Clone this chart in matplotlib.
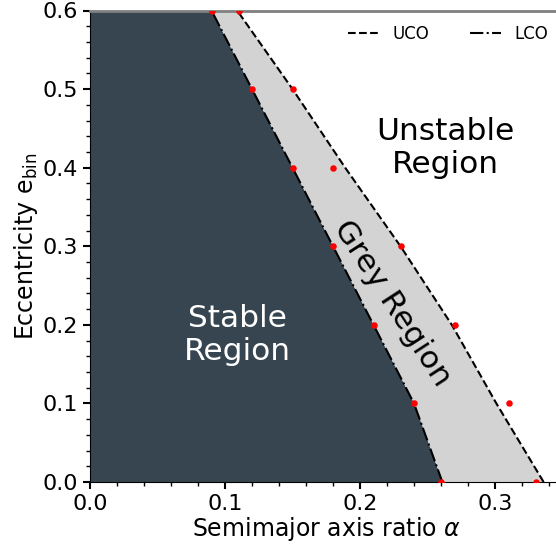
import matplotlib
matplotlib.use("Agg")
import matplotlib.pyplot as plt
from matplotlib.ticker import MultipleLocator
import numpy as np

# Data
ecc_levels = [0.0, 0.1, 0.2, 0.3, 0.4, 0.5, 0.6]
# red simulation points
lco_pts_alpha = [0.26, 0.24, 0.21, 0.18, 0.15, 0.12, 0.09]
uco_pts_alpha = [0.33, 0.31, 0.27, 0.23, 0.18, 0.15, 0.11]
# boundary curves (as drawn)
lco_curve_alpha = [0.261, 0.240, 0.210, 0.180, 0.150, 0.120, 0.090]
uco_curve_alpha = [0.336, 0.301, 0.268, 0.230, 0.189, 0.150, 0.109]

xticks = [0.0, 0.1, 0.2, 0.3]
yticks = [0.0, 0.1, 0.2, 0.3, 0.4, 0.5, 0.6]

dark = "#36454F"
grey = "#D3D3D3"

fig = plt.figure(figsize=(5.56, 5.48), dpi=100)
ax = fig.add_axes([90/556, 66/548, 472.5/556, 471.5/548])

e = np.array(ecc_levels)
ax.fill_betweenx(e, 0, lco_curve_alpha, color=dark, lw=0, zorder=1)
ax.fill_betweenx(e, lco_curve_alpha, uco_curve_alpha, color=grey, lw=0, zorder=1)

ax.plot(uco_curve_alpha, e, color="black", ls="--", lw=1.5, label="UCO", zorder=3)
ax.plot(lco_curve_alpha, e, color="black", ls="-.", lw=1.5, label="LCO", zorder=3)

ax.scatter(lco_pts_alpha, e, s=22, color="red", zorder=4, lw=0)
ax.scatter(uco_pts_alpha, e, s=22, color="red", zorder=4, lw=0)

ax.set_xlim(0, 0.35)
ax.set_ylim(0, 0.6)
ax.set_xticks(xticks)
ax.set_yticks(yticks)
ax.xaxis.set_minor_locator(MultipleLocator(0.02))
ax.yaxis.set_minor_locator(MultipleLocator(0.02))
ax.tick_params(which="major", length=5, width=1.5, labelsize=16)
ax.tick_params(which="minor", length=3, width=1.0)
ax.spines["top"].set_color("grey")
ax.spines["top"].set_linewidth(2)
ax.spines["right"].set_visible(False)

ax.set_xlabel(r"Semimajor axis ratio $\alpha$", fontsize=17, labelpad=1)
ax.set_ylabel(r"Eccentricity $\mathregular{e_{bin}}$", fontsize=17, labelpad=2)

ax.text(0.109, 0.187, "Stable\nRegion", color="white", fontsize=22.5,
        ha="center", va="center", zorder=5)
ax.text(0.263, 0.425, "Unstable\nRegion", color="black", fontsize=22.5,
        ha="center", va="center", zorder=5)
ax.text(0.2237, 0.228, "Grey Region", color="black", fontsize=22.5,
        ha="center", va="center", rotation=-57, rotation_mode="anchor", zorder=5)

ax.legend(loc="upper right", bbox_to_anchor=(1.0, 1.0), ncol=2,
          frameon=False, fontsize=12, handlelength=1.9, columnspacing=2.4,
          borderaxespad=0.45)

fig.savefig("out.png", dpi=100)
